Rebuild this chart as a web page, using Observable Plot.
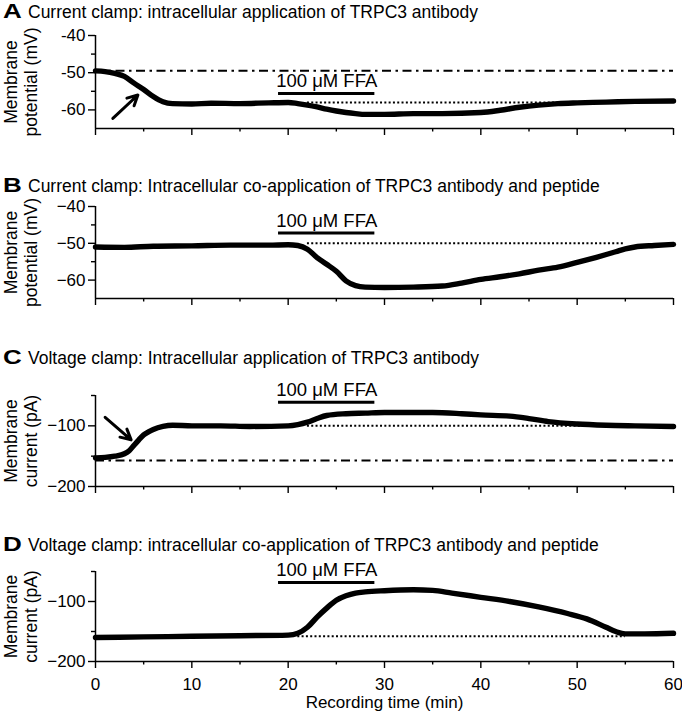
<!DOCTYPE html>
<html><head><meta charset="utf-8">
<script src="https://cdn.jsdelivr.net/npm/d3@7"></script>
<script src="https://cdn.jsdelivr.net/npm/@observablehq/plot@0.6"></script>
<style>
body{margin:0;background:#fff;}
#wrap{position:relative;width:682px;height:719px;font-family:"Liberation Sans",Arial,Helvetica,sans-serif;color:#000;overflow:hidden;}
.title{position:absolute;left:3px;font-size:17.5px;line-height:1;white-space:nowrap;}
.title b{display:inline-block;font-size:20px;line-height:1;transform:scaleX(1.3);transform-origin:left center;width:25px;}
.panel{position:absolute;left:0;}
</style></head><body><div id="wrap"></div>
<script>
// ---- data ----
const titles = [
  ["A", "Current clamp: intracellular application of TRPC3 antibody"],
  ["B", "Current clamp: Intracellular co-application of TRPC3 antibody and peptide"],
  ["C", "Voltage clamp: Intracellular application of TRPC3 antibody"],
  ["D", "Voltage clamp: intracellular co-application of TRPC3 antibody and peptide"]
];
const xMajor = [0, 10, 20, 30, 40, 50, 60];
const xMinor = [5, 15, 25, 35, 45, 55];
const ffaLabel = "100 \u03BCM FFA";
const ffaStart = 19, ffaEnd = 29;

// Panel A: membrane potential (mV)
const tA = [0, 1, 2, 3, 4, 5, 6, 7, 8, 10, 12, 15, 18, 20, 21, 22, 23, 24, 25, 26, 27, 28, 30, 33, 36, 40, 42, 44, 46, 48, 50, 53, 56, 60];
const vA = [-49.5, -49.7, -50.2, -51, -52.8, -54.5, -56.4, -57.8, -58.3, -58.4, -58.2, -58.3, -58.1, -58.0, -58.3, -58.7, -59.2, -59.8, -60.3, -60.7, -61.0, -61.2, -61.2, -61.0, -61.0, -60.7, -60.1, -59.3, -58.7, -58.3, -58.1, -57.9, -57.7, -57.6];
const baseA = -49.5;      // dash-dot reference level
const dotA = {y: -58, x1: 22, x2: 55};
const ffaA = -55.6;
const arrowA = {x1: 1.8, y1: -62.3, x2: 4.4, y2: -56};

// Panel B: membrane potential (mV)
const tB = [0, 3, 6, 10, 14, 18, 20, 21, 22, 23, 24, 25, 26, 27, 28, 30, 33, 36, 38, 40, 42, 44, 46, 48, 50, 52, 54, 55, 56, 58, 60];
const vB = [-51, -51.1, -50.8, -50.7, -50.5, -50.5, -50.4, -50.6, -51.6, -53.9, -55.7, -57.6, -60.2, -61.5, -61.9, -62, -61.9, -61.6, -60.8, -59.8, -59.1, -58.3, -57.3, -56.5, -55.2, -53.8, -52.3, -51.5, -51, -50.6, -50.3];
const dotB = {y: -50, x1: 22, x2: 55};
const ffaB = -47.2;

// Panel C: membrane current (pA)
const tC = [0, 1, 2, 3, 3.5, 4, 4.5, 5, 5.5, 6, 7, 8, 10, 13, 16, 20, 21, 22, 23, 24, 26, 28, 30, 33, 35, 38, 40, 43, 45, 47, 50, 53, 56, 60];
const vC = [-153, -152, -150, -146, -141, -132, -123, -115, -110, -106, -101, -99, -100, -100, -101, -100, -98, -94, -88, -83, -80, -79, -78, -78, -78, -80, -82, -84, -88, -93, -97, -99, -100, -101];
const baseC = -157;
const dotC = {y: -100, x1: 22, x2: 55};
const ffaC = -61;
const arrowC = {x1: 1.0, y1: -86, x2: 3.7, y2: -123};

// Panel D: membrane current (pA)
const tD = [0, 5, 10, 15, 20, 21, 22, 23, 24, 25, 26, 27, 28, 30, 33, 35, 37, 40, 43, 46, 49, 51, 53, 54, 55, 57, 60];
const vD = [-160, -159, -158, -157, -156, -153, -143, -126, -111, -98, -90.5, -86, -84, -82, -80.5, -81.5, -86, -93, -100, -109, -120, -129, -143, -150, -154, -154, -153];
const dotD = {y: -158, x1: 21, x2: 55};
const ffaD = -68.3;

const mvLabel = "Membrane\npotential (mV)";
const paLabel = "Membrane\ncurrent (pA)";
const xLabel = "Recording time (min)";

// ---- drawing ----
const FONT = '"Liberation Sans", Arial, Helvetica, sans-serif';
const wrap = document.getElementById("wrap");
const minus = d => String(d).replace("-", "\u2212");
const hyphen = d => String(d);

function panel(cfg) {
  const data = cfg.t.map((x, i) => ({t: x, v: cfg.v[i]}));
  const y0 = cfg.yDomain[0];
  const marks = [];
  if (cfg.base !== undefined)
    marks.push(Plot.ruleY([{y: cfg.base, x1: 0, x2: 60}], {y: "y", x1: "x1", x2: "x2", stroke: "#000", strokeWidth: 2, strokeDasharray: "9,4.5,2.5,4.5"}));
  marks.push(Plot.ruleY([cfg.dot], {y: "y", x1: "x1", x2: "x2", stroke: "#000", strokeWidth: 2, strokeDasharray: "2,2.3"}));
  marks.push(Plot.line(data, {x: "t", y: "v", stroke: "#000", strokeWidth: 5.4, strokeLinejoin: "round", curve: "monotone-x"}));
  marks.push(Plot.ruleY([{y: cfg.ffa, x1: ffaStart, x2: ffaEnd}], {y: "y", x1: "x1", x2: "x2", stroke: "#000", strokeWidth: 3}));
  marks.push(Plot.text([{x: (ffaStart + ffaEnd) / 2, y: cfg.ffa}], {x: "x", y: "y", text: () => ffaLabel, dy: -12, fontSize: 18.5, fill: "#000"}));
  if (cfg.arrow)
    marks.push(Plot.arrow([cfg.arrow], {x1: "x1", y1: "y1", x2: "x2", y2: "y2", stroke: "#000", strokeWidth: 3, headLength: 11, headAngle: 55}));
  // axes
  marks.push(Plot.axisY({ticks: cfg.yMajor, tickSize: 7, tickPadding: 3, tickFormat: cfg.fmt, label: null, fontSize: 17, strokeWidth: 1.4}));
  marks.push(Plot.axisY({ticks: cfg.yMinor, tickSize: 4, tickFormat: () => "", label: null, strokeWidth: 1.4}));
  marks.push(Plot.axisX({ticks: xMajor, tickSize: 7, tickPadding: 9, tickFormat: cfg.showX ? (d => String(d)) : (() => ""), label: null, fontSize: 17, strokeWidth: 1.4}));
  marks.push(Plot.axisX({ticks: xMinor, tickSize: 3.5, tickFormat: () => "", label: null, strokeWidth: 1.4}));
  marks.push(Plot.ruleX([0], {stroke: "#000", strokeWidth: 1.5}));
  marks.push(Plot.ruleY([y0], {stroke: "#000", strokeWidth: 1.5}));
  marks.push(Plot.text([cfg.ylabel], {text: d => d, frameAnchor: "left", dx: -75, rotate: -90, fontSize: 17.5, lineHeight: 1.15, textAnchor: "middle", lineAnchor: "middle", fill: "#000"}));
  if (cfg.showX)
    marks.push(Plot.text([xLabel], {text: d => d, frameAnchor: "bottom", dy: 46, fontSize: 17, fill: "#000"}));
  const svg = Plot.plot({
    width: 682,
    height: cfg.mt + cfg.frame + cfg.mb,
    marginTop: cfg.mt, marginBottom: cfg.mb, marginLeft: 95, marginRight: 9,
    x: {domain: [0, 60]},
    y: {domain: cfg.yDomain},
    style: {background: "transparent", fontFamily: FONT, fontSize: "17px", color: "#000", overflow: "visible"},
    marks
  });
  svg.classList.add("panel");
  svg.style.top = cfg.top + "px";
  wrap.appendChild(svg);
}

panel({t: tA, v: vA, yDomain: [-65, -40], yMajor: [-40, -50, -60], yMinor: [-45, -55], fmt: hyphen,
  base: baseA, dot: dotA, ffa: ffaA, arrow: arrowA, ylabel: mvLabel, top: 22, mt: 13, frame: 93, mb: 20});
panel({t: tB, v: vB, yDomain: [-65, -40], yMajor: [-40, -50, -60], yMinor: [-45, -55], fmt: minus,
  dot: dotB, ffa: ffaB, ylabel: mvLabel, top: 196, mt: 10, frame: 92, mb: 20});
panel({t: tC, v: vC, yDomain: [-200, -50], yMajor: [-100, -200], yMinor: [-50, -150], fmt: minus,
  base: baseC, dot: dotC, ffa: ffaC, arrow: arrowC, ylabel: paLabel, top: 368, mt: 27, frame: 91, mb: 20});
panel({t: tD, v: vD, yDomain: [-200, -50], yMajor: [-100, -200], yMinor: [-50, -150], fmt: minus,
  dot: dotD, ffa: ffaD, ylabel: paLabel, showX: true, top: 551, mt: 20, frame: 90, mb: 58});

const titleTops = [1, 175, 347, 534];
titles.forEach(([letter, text], i) => {
  const d = document.createElement("div");
  d.className = "title";
  d.style.top = titleTops[i] + "px";
  const b = document.createElement("b");
  b.textContent = letter;
  d.appendChild(b);
  d.appendChild(document.createTextNode(text));
  wrap.appendChild(d);
});
</script></body></html>
